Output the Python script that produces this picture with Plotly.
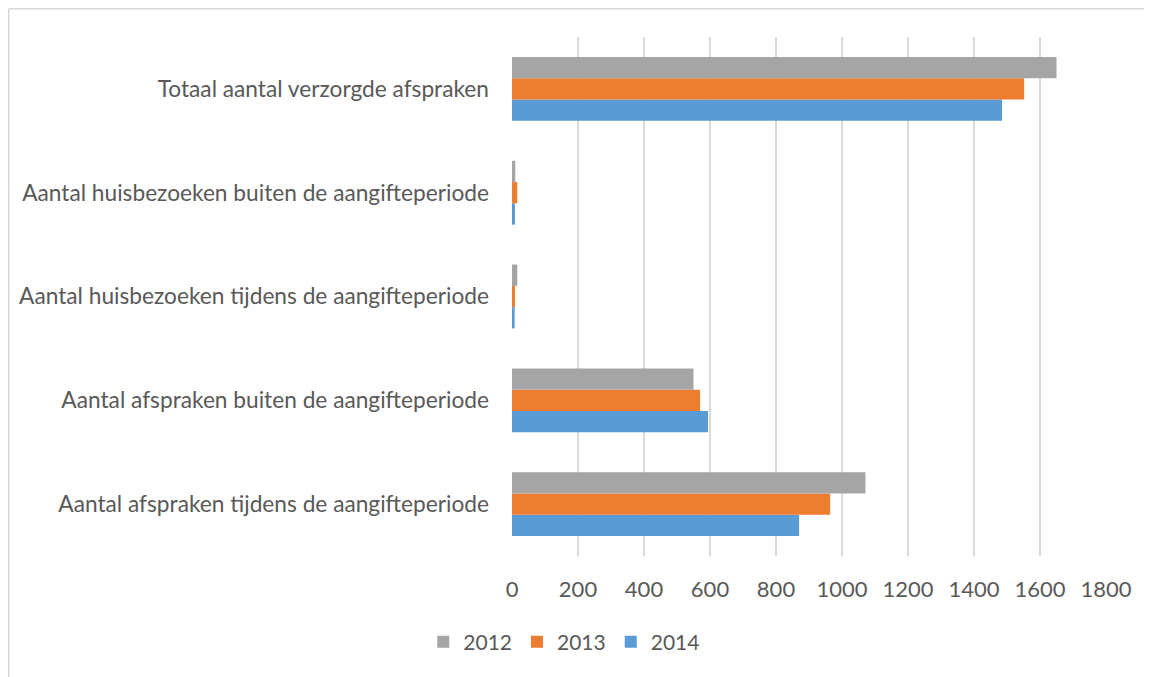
import plotly.graph_objects as go

categories = [
    "Aantal afspraken tijdens de aangifteperiode",
    "Aantal afspraken buiten de aangifteperiode",
    "Aantal huisbezoeken tijdens de aangifteperiode",
    "Aantal huisbezoeken buiten de aangifteperiode",
    "Totaal aantal verzorgde afspraken",
]
values_2012 = [1071, 550, 16, 10, 1650]
values_2013 = [964, 570, 9, 16, 1552]
values_2014 = [870, 594, 8, 9, 1485]
x_ticks = [0, 200, 400, 600, 800, 1000, 1200, 1400, 1600, 1800]

FONT = "Lato"
TEXT = "#595959"
GRID = "#D9D9D9"

# page body has an 8px margin; figure is sized to fill the rest of the window
W, H = 1144, 669
L, R, T, B = 504, 46, 29, 121
PW, PH = W - L - R, H - T - B

fig = go.Figure()
# Added bottom-to-top so that 2012 sits on top within each group
for name, vals, col in [
    ("2014", values_2014, "#5B9BD5"),
    ("2013", values_2013, "#ED7D31"),
    ("2012", values_2012, "#A5A5A5"),
]:
    fig.add_trace(go.Bar(
        y=categories, x=vals, name=name, orientation="h",
        marker=dict(color=col, line=dict(width=0)),
    ))

bx0 = (0.75 - L) / PW
by1 = (T + PH - 0.75) / PH

fig.update_layout(
    width=W, height=H,
    margin=dict(l=L, r=R, t=T, b=B),
    paper_bgcolor="white", plot_bgcolor="white",
    barmode="group", bargap=0.385, bargroupgap=0,
    font=dict(family=FONT, size=22, color=TEXT),
    showlegend=True,
    legend=dict(
        orientation="h", traceorder="reversed",
        x=0.088, xanchor="center", y=-0.166, yanchor="middle",
        font=dict(family=FONT, size=21, color=TEXT),
        itemwidth=30,
    ),
    xaxis=dict(
        range=[0, 1800], tickvals=x_ticks, ticktext=[str(v) for v in x_ticks],
        showgrid=True, gridcolor=GRID, gridwidth=1.5,
        zeroline=False, showline=False, ticks="",
        ticklabelstandoff=18,
        tickfont=dict(family=FONT, size=22, color=TEXT),
    ),
    yaxis=dict(
        type="category", showgrid=False, zeroline=False, ticks="",
        showline=False, ticklabelstandoff=22,
        tickfont=dict(family=FONT, size=22.7, color=TEXT),
    ),
    shapes=[
        dict(type="line", xref="paper", yref="paper",
             x0=bx0, x1=(W - L) / PW + 0.05, y0=by1, y1=by1,
             line=dict(color=GRID, width=1.5), layer="below"),
        dict(type="line", xref="paper", yref="paper",
             x0=bx0, x1=bx0, y0=by1, y1=-0.3,
             line=dict(color=GRID, width=1.5), layer="below"),
    ],
)

fig.write_html("out.html")
